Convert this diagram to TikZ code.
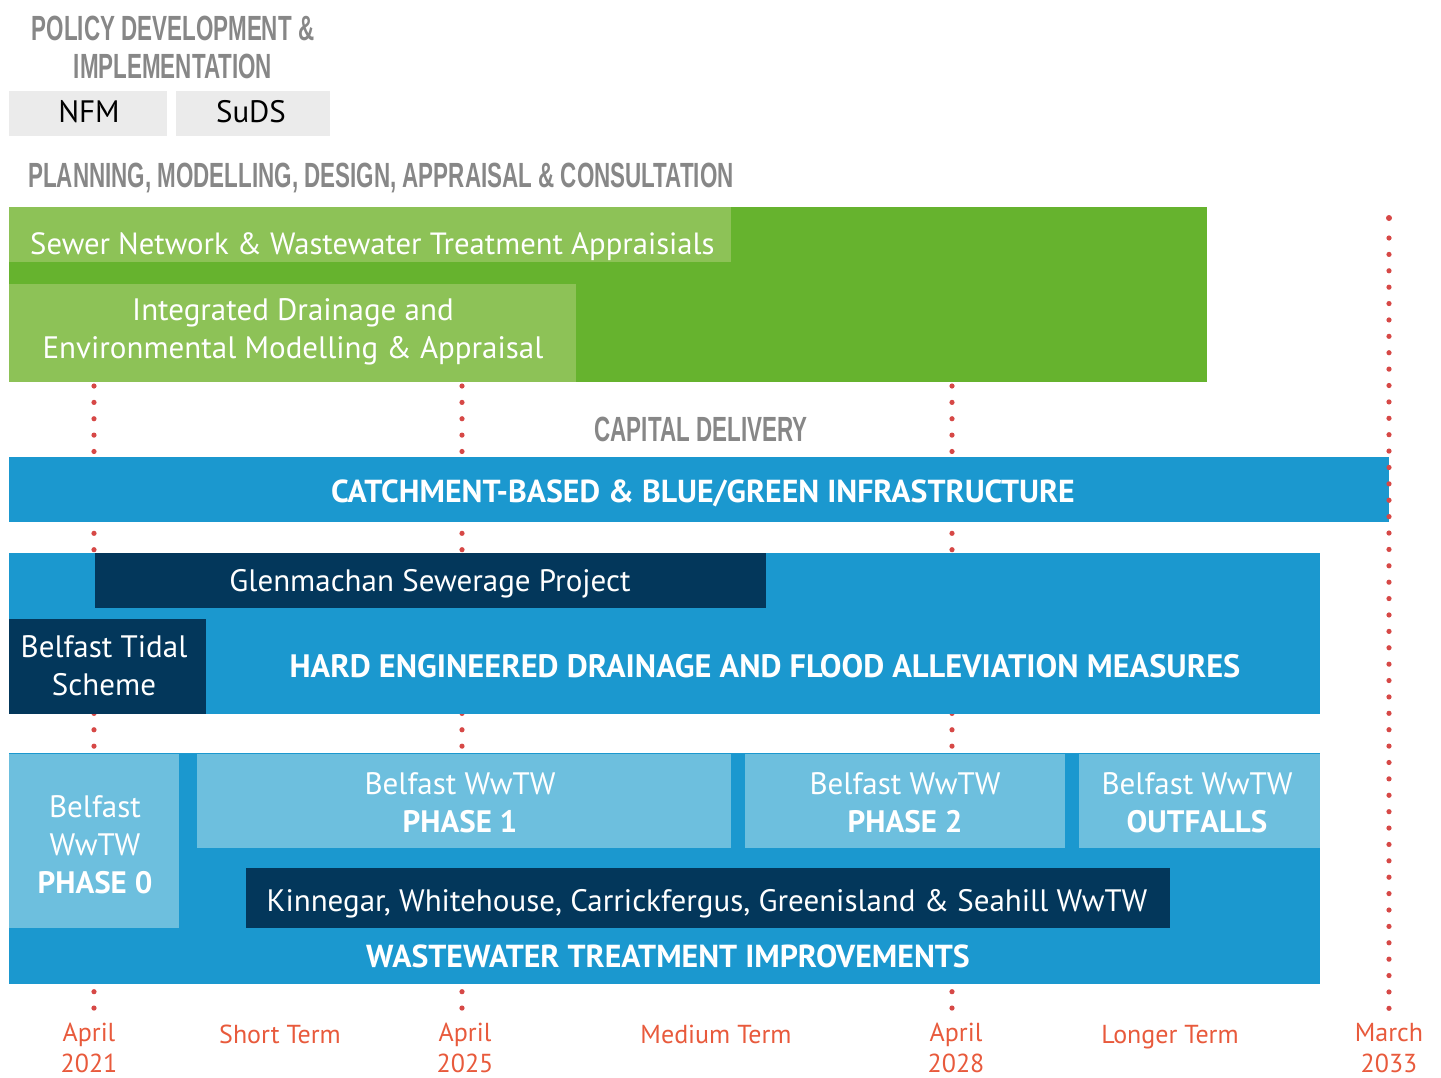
\documentclass[tikz,border=0pt]{standalone}
\usepackage{fontspec}
\setmainfont{PT Sans}
\newfontfamily\headfont{Liberation Sans}
\definecolor{headgray}{HTML}{878787}
\definecolor{boxgray}{HTML}{EBEBEB}
\definecolor{leaf}{HTML}{66B32E}
\definecolor{lime}{HTML}{8DC257}
\definecolor{ocean}{HTML}{1B98CF}
\definecolor{shallow}{HTML}{6DBFDE}
\definecolor{navy}{HTML}{03375B}
\definecolor{dotred}{HTML}{D64846}
\definecolor{dateorange}{HTML}{E85A3C}

\begin{document}
\begin{tikzpicture}[x=1pt, y=-1pt,
    head/.style={text=headgray, inner sep=0pt, anchor=base,
                 font=\headfont\bfseries\fontsize{35}{38}\selectfont},
    tag/.style={text=black, inner sep=0pt, anchor=base, font=\fontsize{31}{36}\selectfont},
    lbl/.style={text=white, inner sep=0pt, align=center, font=\fontsize{31}{38}\selectfont},
    bold lbl/.style={lbl, font=\bfseries\fontsize{31.8}{38}\selectfont},
    when/.style={text=dateorange, inner sep=0pt, align=center, font=\fontsize{26}{31}\selectfont},
    dot/.style={fill=dotred}]
  % canvas of the reference, 1 unit = 1 pixel
  \path[use as bounding box] (0,0) rectangle (1441,1077);

  % ================= dotted year lines (behind the bars) =================
  \foreach \x in {94,462,952}
    \foreach \k in {0,...,38}
      \fill[dot] (\x,386+16.37*\k) circle (2.6);

  % ================= policy =================
  \node[head] (pol1) at (173,40) {\scalebox{0.64}[1]{POLICY DEVELOPMENT \&}};
  \node[head] (pol2) at (173,78) {\scalebox{0.64}[1]{IMPLEMENTATION}};
  \fill[boxgray] (9,91) rectangle (167,136);
  \fill[boxgray] (176,91) rectangle (330,136);
  \node[tag] (nfm) at (89,122) {NFM};
  \node[tag] (suds) at (251,122) {SuDS};

  % ================= planning =================
  \node[head, anchor=base west] (plan) at (28,187)
    {\scalebox{0.64}[1]{PLANNING, MODELLING, DESIGN, APPRAISAL \& CONSULTATION}};
  \fill[leaf] (9,207) rectangle (1207,382);
  \fill[lime] (9,207) rectangle (731,262);
  \fill[lime] (9,284) rectangle (576,382);
  \node[lbl, anchor=base west, font=\fontsize{30.7}{38}\selectfont] (sewer) at (30,254)
    {Sewer Network \& Wastewater Treatment Appraisials};
  \node[lbl] (idem) at (293,332) {Integrated Drainage and\\Environmental Modelling \& Appraisal};

  % ================= capital delivery =================
  \node[head] (cap) at (701,441) {\scalebox{0.64}[1]{CAPITAL DELIVERY}};
  \fill[ocean] (9,457) rectangle (1389,522);
  \node[bold lbl, anchor=base] (catch) at (703,502) {CATCHMENT-BASED \& BLUE/GREEN INFRASTRUCTURE};

  % hard engineered measures
  \fill[ocean] (9,553) rectangle (1320,714);
  \fill[navy] (95,553) rectangle (766,608);
  \fill[navy] (9,619) rectangle (206,714);
  \node[lbl, anchor=base] (glen) at (430,591) {Glenmachan Sewerage Project};
  \node[lbl] (tidal) at (104,666) {Belfast Tidal\\Scheme};
  \node[bold lbl, anchor=base, font=\bfseries\fontsize{32.4}{38}\selectfont] (hard) at (765,677)
    {HARD ENGINEERED DRAINAGE AND FLOOD ALLEVIATION MEASURES};

  % wastewater treatment
  \fill[ocean] (9,753) rectangle (1320,984);
  \fill[shallow] (9,754) rectangle (179,928);
  \fill[shallow] (197,754) rectangle (731,848);
  \fill[shallow] (745,754) rectangle (1065,848);
  \fill[shallow] (1079,754) rectangle (1320,848);
  \fill[navy] (246,868) rectangle (1170,928);
  \node[lbl] (ph0) at (95,845) {Belfast\\WwTW\\\textbf{PHASE 0}};
  \node[lbl] (ph1) at (460,803) {Belfast WwTW\\\textbf{PHASE 1}};
  \node[lbl] (ph2) at (905,803) {Belfast WwTW\\\textbf{PHASE 2}};
  \node[lbl] (outf) at (1197,803) {Belfast WwTW\\\textbf{OUTFALLS}};
  \node[lbl, anchor=base] (kin) at (707,911)
    {Kinnegar, Whitehouse, Carrickfergus, Greenisland \& Seahill WwTW};
  \node[bold lbl, anchor=base] (wwti) at (668,967) {WASTEWATER TREATMENT IMPROVEMENTS};

  % ================= time axis =================
  \fill[dot] (1389,218) circle (3);
  \foreach \k in {0,...,47}
    \fill[dot] (1389,238+16.39*\k) circle (2.6);
  \node[when] (d21) at (89,1048) {April\\2021};
  \node[when, anchor=base] (st) at (280,1043) {Short Term};
  \node[when] (d25) at (465,1048) {April\\2025};
  \node[when, anchor=base] (mt) at (716,1043) {Medium Term};
  \node[when] (d28) at (956,1048) {April\\2028};
  \node[when, anchor=base] (lt) at (1170,1043) {Longer Term};
  \node[when] (d33) at (1389,1048) {March\\2033};
\end{tikzpicture}
\end{document}
